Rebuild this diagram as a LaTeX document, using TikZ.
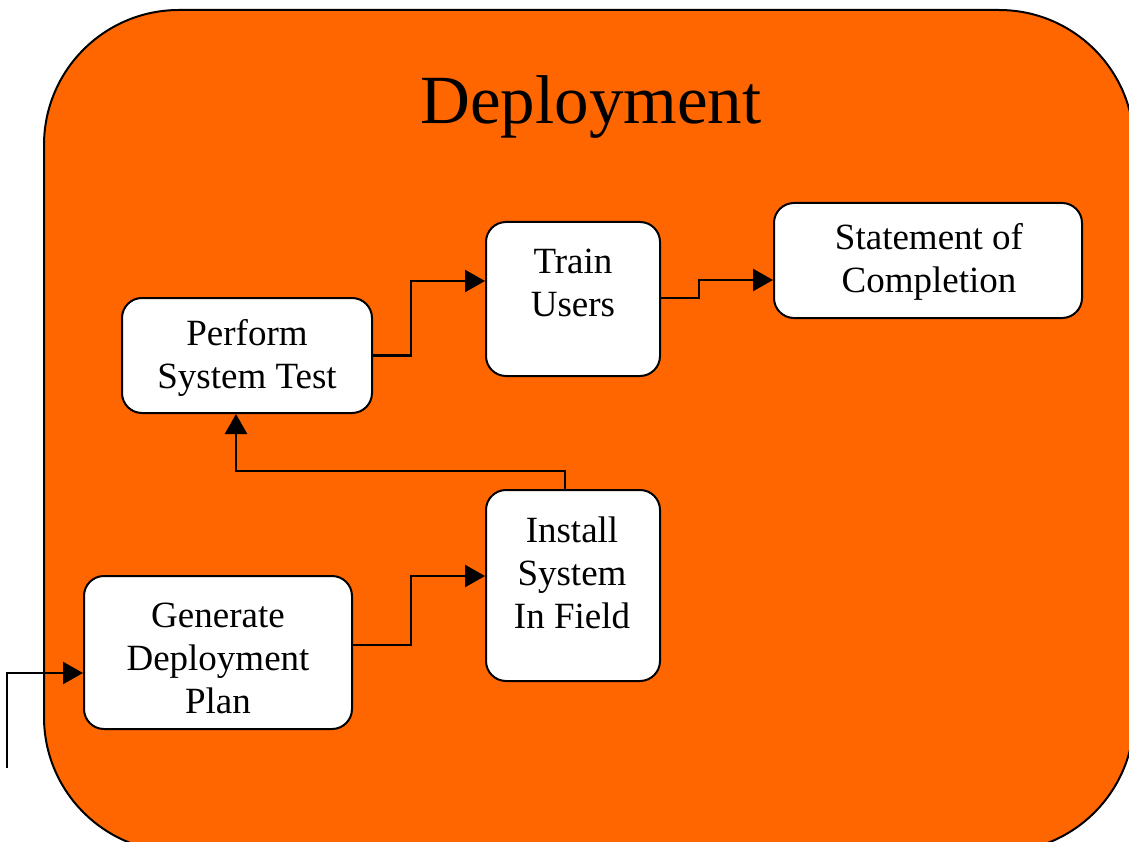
\documentclass[tikz,border=0pt]{standalone}
\usepackage{fontspec}
\setmainfont{Liberation Serif}
\usetikzlibrary{arrows.meta,calc}
\definecolor{deporange}{HTML}{FF6600}
\tikzset{
  stepbox/.style={draw=black,line width=2pt,fill=white,rounded corners=20pt,inner sep=0pt},
  steptext/.style={align=center,font=\fontsize{37}{43}\selectfont,inner sep=0pt},
  conn/.style={draw=black,line width=2.5pt,-{Triangle[length=20pt,width=22pt]}},
  plain/.style={draw=black,line width=2.5pt}
}
\begin{document}
\begin{tikzpicture}[x=1pt,y=-1pt]
\useasboundingbox (0,0) rectangle (1129,842);
\clip (0,0) rectangle (1129,842);
\fill[white] (0,0) rectangle (1129,842);
\draw[line width=2pt,fill=deporange,rounded corners=135pt] (44,10) rectangle (1134,852);
\node[font=\fontsize{69}{80}\selectfont,inner sep=0pt] (title) at (591,107) {Deployment};
% boxes
\node[stepbox,minimum width=250pt,minimum height=115pt] (pst) at (247,355.5) {};
\node[stepbox,minimum width=174pt,minimum height=154pt] (train) at (573,299) {};
\node[stepbox,minimum width=308pt,minimum height=115pt] (soc) at (928,260.5) {};
\node[stepbox,minimum width=174pt,minimum height=191pt] (install) at (573,585.5) {};
\node[stepbox,minimum width=268pt,minimum height=153pt] (gen) at (218,652.5) {};
% texts
\node[steptext] (pstt) at (247,358) {Perform\\System Test};
\node[steptext] (traint) at (573,283) {Train\\Users};
\node[steptext] (soct) at (929,262) {Statement of\\Completion};
\node[steptext] (installt) at (572,573) {Install\\System\\In Field};
\node[steptext] (gent) at (218,658) {Generate\\Deployment\\Plan};
% connectors
\coordinate (in) at (7,768);
\draw[conn] (in) |- ([yshift=-20.5pt]gen.west);
\draw[conn] ([yshift=7.5pt]gen.east) -- ++(58,0) |- ([yshift=9.5pt]install.west);
\draw[conn] ([xshift=-8pt]install.north) -- ++(0,-18) -| ([xshift=-11pt]pst.south);
\draw[conn] (pst.east) -- ++(38,0) |- ([yshift=18pt]train.west);
\draw[conn] ([yshift=1pt]train.east) -- ++(38,0) |- ([yshift=-19.5pt]soc.west);
\end{tikzpicture}
\end{document}
